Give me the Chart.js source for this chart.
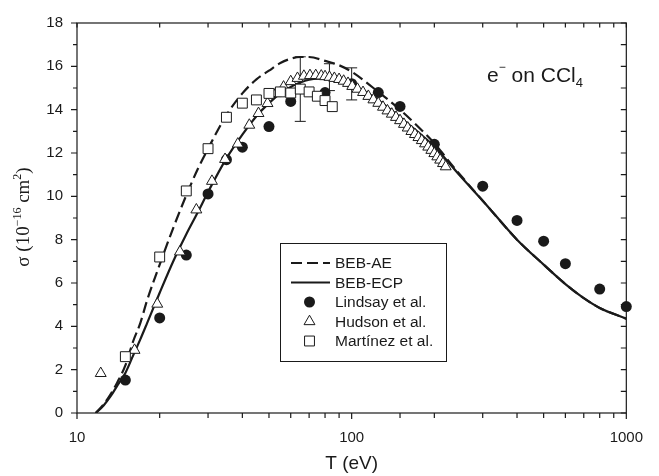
<!DOCTYPE html>
<html>
<head>
<meta charset="utf-8">
<script src="https://cdn.jsdelivr.net/npm/chart.js@4.4.1/dist/chart.umd.min.js"></script>
<style>
  html, body { margin: 0; padding: 0; background: #fff; }
  #wrap { width: 659px; height: 476px; }
</style>
</head>
<body>
<div id="wrap"><canvas id="sigmaChart" width="659" height="476"></canvas></div>
<script>
// BEB-AE (dashed) curve
const aeT = [11.7, 12.5, 13.3, 14, 15, 16, 17, 18, 20, 22.5, 25, 27.5, 30, 35, 40, 45, 50, 55, 60, 65, 70, 80, 90, 100, 120, 150, 175, 200, 230, 250, 300, 400, 500, 600, 700, 800, 1000];
const aeSigma = [0, 0.4, 0.9, 1.4, 2.2, 3.3, 4.15, 5.2, 6.85, 8.6, 10.05, 11.25, 12.2, 13.75, 14.75, 15.4, 15.8, 16.15, 16.35, 16.43, 16.43, 16.25, 16.05, 15.75, 15.0, 14.0, 13.2, 12.45, 11.5, 10.95, 9.8, 8.0, 6.85, 5.95, 5.3, 4.85, 4.35];

// BEB-ECP (solid) curve
const ecpT = [11.7, 12.5, 13.3, 14, 15, 16, 17, 18, 20, 22.5, 25, 27.5, 30, 35, 40, 45, 50, 55, 60, 65, 70, 75, 80, 90, 100, 120, 150, 175, 200, 250, 300, 400, 500, 600, 700, 800, 1000];
const ecpSigma = [0, 0.35, 0.8, 1.25, 1.85, 2.65, 3.4, 4.15, 5.55, 7.05, 8.25, 9.25, 10.2, 11.75, 12.85, 13.7, 14.3, 14.75, 15.05, 15.25, 15.38, 15.43, 15.43, 15.35, 15.15, 14.6, 13.65, 12.95, 12.3, 10.9, 9.8, 8.0, 6.85, 5.95, 5.3, 4.85, 4.35];

// measurements
const lindsayT = [15, 20, 25, 30, 35, 40, 50, 60, 80, 100, 125, 150, 200, 300, 400, 500, 600, 800, 1000];
const lindsaySigma = [1.52, 4.39, 7.29, 10.11, 11.69, 12.27, 13.22, 14.38, 14.79, 15.2, 14.79, 14.15, 12.4, 10.47, 8.89, 7.93, 6.89, 5.72, 4.91];

const hudsonT = [12.2, 16.2, 19.6, 23.7, 27.2, 31, 34.6, 38.5, 42.4, 45.8, 49.4, 53, 56.5, 60, 63.5, 67, 70.5, 74, 77.5, 80, 83, 86.5, 90, 93.5, 97, 100.5, 105, 110, 115, 120, 125, 130, 135, 140, 145, 150, 155, 160, 165, 170, 175, 180, 185, 190, 195, 200, 205, 210, 215, 220];
const hudsonSigma = [1.83, 2.9, 5.03, 7.44, 9.38, 10.7, 11.71, 12.42, 13.29, 13.83, 14.29, 14.75, 15.05, 15.3, 15.45, 15.55, 15.58, 15.58, 15.56, 15.53, 15.5, 15.45, 15.4, 15.32, 15.22, 15.08, 14.95, 14.8, 14.62, 14.46, 14.3, 14.12, 13.95, 13.8, 13.65, 13.5, 13.33, 13.16, 13.0, 12.86, 12.72, 12.58, 12.43, 12.28, 12.13, 11.98, 11.83, 11.68, 11.52, 11.37];

const martinezT = [15, 20, 25, 30, 35, 40, 45, 50, 55, 60, 65, 70, 75, 80, 85];
const martinezSigma = [2.6, 7.2, 10.25, 12.2, 13.65, 14.3, 14.45, 14.75, 14.82, 14.77, 14.95, 14.82, 14.62, 14.42, 14.14];

// error bars
const errT = [65, 83, 100];
const errLow = [13.46, 14.88, 14.45];
const errHigh = [16.44, 16.12, 15.93];

const legendLabels = ['BEB-AE', 'BEB-ECP', 'Lindsay et al.', 'Hudson et al.', 'Martínez et al.'];

const INK = '#1a1a1a';
const SANS = '"Liberation Sans", Arial, sans-serif';
const SERIF = '"Liberation Serif", "Times New Roman", serif';
const CIRCLE_R = 5.5;
const TRI_R = 6.3;
const RECT_R = 7;

function pairs(xs, ys) {
    return xs.map((x, i) => ({ x: x, y: ys[i] }));
}

function isDecade(v) {
    const l = Math.log10(v);
    return Math.abs(l - Math.round(l)) < 1e-9;
}

// frame box and tick marks (outward on left/bottom, inward on top/right)
const frameTicks = {
    id: 'frameTicks',
    beforeDatasetsDraw(chart) {
        const { ctx, chartArea: a, scales: { x, y } } = chart;
        ctx.save();
        ctx.strokeStyle = INK;
        ctx.lineWidth = 1.2;
        ctx.strokeRect(a.left, a.top, a.right - a.left, a.bottom - a.top);
        ctx.beginPath();
        x.ticks.forEach(t => {
            const px = x.getPixelForValue(t.value);
            const major = isDecade(t.value);
            ctx.moveTo(px, a.bottom);
            ctx.lineTo(px, a.bottom + (major ? 6 : 5));
            ctx.moveTo(px, a.top);
            ctx.lineTo(px, a.top + 4.5);
        });
        y.ticks.forEach(t => {
            const py = y.getPixelForValue(t.value);
            const major = t.value % 2 === 0;
            ctx.moveTo(a.left, py);
            ctx.lineTo(a.left - (major ? 6 : 4), py);
            ctx.moveTo(a.right, py);
            ctx.lineTo(a.right - 5.5, py);
        });
        ctx.stroke();

        // error bars
        ctx.lineWidth = 1;
        ctx.beginPath();
        errT.forEach((t, i) => {
            const px = x.getPixelForValue(t);
            const lo = y.getPixelForValue(errLow[i]);
            const hi = y.getPixelForValue(errHigh[i]);
            ctx.moveTo(px, lo);
            ctx.lineTo(px, hi);
            ctx.moveTo(px - 5.5, lo);
            ctx.lineTo(px + 5.5, lo);
            ctx.moveTo(px - 5.5, hi);
            ctx.lineTo(px + 5.5, hi);
        });
        ctx.stroke();
        ctx.restore();
    }
};

function drawMarker(ctx, style, cx, cy) {
    ctx.beginPath();
    if (style === 'circle') {
        ctx.arc(cx, cy, CIRCLE_R, 0, Math.PI * 2);
        ctx.fillStyle = INK;
        ctx.fill();
        return;
    }
    if (style === 'triangle') {
        const r = TRI_R;
        ctx.moveTo(cx, cy - r);
        ctx.lineTo(cx + r * Math.sin(Math.PI * 2 / 3), cy - r * Math.cos(Math.PI * 2 / 3));
        ctx.lineTo(cx + r * Math.sin(Math.PI * 4 / 3), cy - r * Math.cos(Math.PI * 4 / 3));
        ctx.closePath();
    } else {
        const h = RECT_R * Math.SQRT1_2;
        ctx.rect(cx - h, cy - h, 2 * h, 2 * h);
    }
    ctx.fillStyle = '#fff';
    ctx.fill();
    ctx.lineWidth = 1;
    ctx.strokeStyle = INK;
    ctx.stroke();
}

// legend box, y-axis title and the molecule label
const annotations = {
    id: 'annotations',
    afterDraw(chart) {
        const ctx = chart.ctx;
        ctx.save();

        // legend
        const box = { left: 280, top: 243, right: 446, bottom: 361 };
        ctx.fillStyle = '#fff';
        ctx.fillRect(box.left, box.top, box.right - box.left, box.bottom - box.top);
        ctx.strokeStyle = INK;
        ctx.lineWidth = 1;
        ctx.strokeRect(box.left + 0.5, box.top + 0.5, box.right - box.left, box.bottom - box.top);
        const rowY = [263, 282.5, 302, 321.5, 341];
        const styles = ['dash', 'line', 'circle', 'triangle', 'rect'];
        ctx.font = '15.5px ' + SANS;
        ctx.textBaseline = 'middle';
        styles.forEach((s, i) => {
            const yy = rowY[i];
            if (s === 'dash' || s === 'line') {
                ctx.beginPath();
                ctx.setLineDash(s === 'dash' ? [11, 5] : []);
                ctx.lineWidth = 2.2;
                ctx.strokeStyle = INK;
                ctx.moveTo(291, yy);
                ctx.lineTo(330, yy);
                ctx.stroke();
                ctx.setLineDash([]);
            } else {
                drawMarker(ctx, s, 309.5, yy);
            }
            ctx.fillStyle = INK;
            ctx.fillText(legendLabels[i], 335, yy + 1);
        });

        // y-axis title with superscripts
        const big = '19px ' + SERIF;
        const small = '12px ' + SERIF;
        const parts = [
            { t: 'σ (10', f: big, dy: 0 },
            { t: '−16', f: small, dy: -8 },
            { t: ' cm', f: big, dy: 0 },
            { t: '2', f: small, dy: -8 },
            { t: ')', f: big, dy: 0 }
        ];
        let total = 0;
        parts.forEach(p => { ctx.font = p.f; p.w = ctx.measureText(p.t).width; total += p.w; });
        ctx.translate(29, 217);
        ctx.rotate(-Math.PI / 2);
        ctx.textBaseline = 'alphabetic';
        ctx.textAlign = 'left';
        let cx = -total / 2;
        parts.forEach(p => {
            ctx.font = p.f;
            ctx.fillText(p.t, cx, p.dy);
            cx += p.w;
        });
        ctx.setTransform(1, 0, 0, 1, 0, 0);

        // molecule label
        const label = [
            { t: 'e', f: '21px ' + SANS, dy: 0 },
            { t: '−', f: '12px ' + SANS, dy: -11 },
            { t: ' on CCl', f: '21px ' + SANS, dy: 0 },
            { t: '4', f: '13px ' + SANS, dy: 5 }
        ];
        let lx = 487;
        label.forEach(p => {
            ctx.font = p.f;
            ctx.fillText(p.t, lx, 82 + p.dy);
            lx += ctx.measureText(p.t).width;
        });
        ctx.restore();
    }
};

const ctx = document.getElementById('sigmaChart').getContext('2d');

new Chart(ctx, {
    type: 'scatter',
    data: {
        datasets: [
            {
                label: legendLabels[4],
                data: pairs(martinezT, martinezSigma),
                pointStyle: 'rect',
                pointRadius: RECT_R,
                pointBackgroundColor: '#fff',
                pointBorderColor: INK,
                pointBorderWidth: 1,
                clip: false,
                order: 1
            },
            {
                label: legendLabels[3],
                data: pairs(hudsonT, hudsonSigma),
                pointStyle: 'triangle',
                pointRadius: TRI_R,
                pointBackgroundColor: '#fff',
                pointBorderColor: INK,
                pointBorderWidth: 1,
                clip: false,
                order: 2
            },
            {
                label: legendLabels[2],
                data: pairs(lindsayT, lindsaySigma),
                pointStyle: 'circle',
                pointRadius: CIRCLE_R,
                pointBackgroundColor: INK,
                pointBorderColor: INK,
                pointBorderWidth: 0,
                clip: false,
                order: 3
            },
            {
                type: 'line',
                label: legendLabels[1],
                data: pairs(ecpT, ecpSigma),
                borderColor: INK,
                borderWidth: 2.2,
                pointRadius: 0,
                fill: false,
                cubicInterpolationMode: 'monotone',
                order: 4
            },
            {
                type: 'line',
                label: legendLabels[0],
                data: pairs(aeT, aeSigma),
                borderColor: INK,
                borderWidth: 2.2,
                borderDash: [11, 5],
                pointRadius: 0,
                fill: false,
                cubicInterpolationMode: 'monotone',
                order: 5
            }
        ]
    },
    options: {
        responsive: false,
        animation: false,
        layout: { padding: { left: 0, top: 20, right: 18, bottom: 0 } },
        plugins: {
            legend: { display: false },
            tooltip: { enabled: false }
        },
        scales: {
            x: {
                type: 'logarithmic',
                min: 10,
                max: 1000,
                grid: { display: false, drawTicks: false },
                border: { display: false },
                ticks: {
                    autoSkip: false,
                    maxRotation: 0,
                    padding: 16,
                    color: INK,
                    font: { family: SANS, size: 15 },
                    callback: v => (isDecade(v) ? String(Math.round(v)) : '')
                },
                title: {
                    display: true,
                    text: 'T (eV)',
                    color: INK,
                    font: { family: SANS, size: 19 },
                    padding: { top: 0, bottom: 1 }
                },
                afterFit: scale => { scale.height = 63; }
            },
            y: {
                min: 0,
                max: 18,
                grid: { display: false, drawTicks: false },
                border: { display: false },
                ticks: {
                    stepSize: 1,
                    autoSkip: false,
                    padding: 14,
                    color: INK,
                    font: { family: SANS, size: 15 },
                    callback: v => (v % 2 === 0 ? String(v) : '')
                },
                afterFit: scale => { scale.width = 77; }
            }
        }
    },
    plugins: [frameTicks, annotations]
});
</script>
</body>
</html>
